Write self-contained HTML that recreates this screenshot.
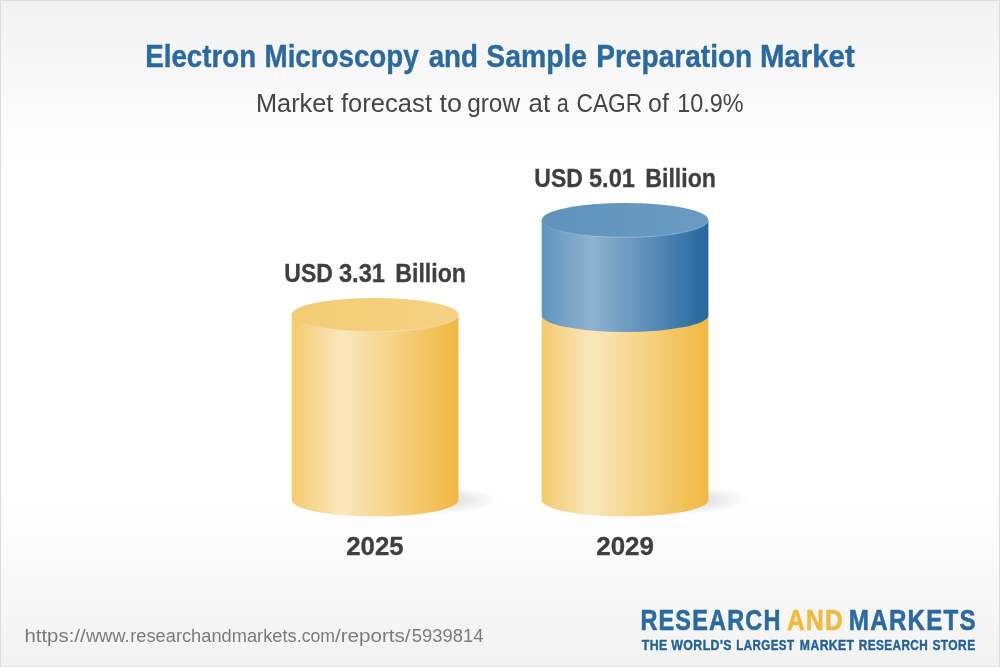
<!DOCTYPE html>
<html lang="en">
<head>
<meta charset="utf-8">
<title>Electron Microscopy and Sample Preparation Market</title>
<style>
  html, body { margin: 0; padding: 0; background: #ffffff; }
  body { width: 1000px; height: 667px; overflow: hidden; position: relative;
         font-family: "Liberation Sans", sans-serif; }
  #card { position: absolute; left: 0; top: 0; width: 998px; height: 665px;
          border: 1px solid #dcdcdc;
          background: linear-gradient(to bottom, #f2f2f2 0px, #ffffff 163px, #ffffff 498px, #f2f2f2 665px); }
  svg { position: absolute; left: 0; top: 0; }
  svg text { font-family: "Liberation Sans", sans-serif; }
</style>
</head>
<body>
<div id="card"></div>
<svg width="1000" height="667" viewBox="0 0 1000 667" xmlns="http://www.w3.org/2000/svg">
  <defs>
    <linearGradient id="gy" x1="0" y1="0" x2="1" y2="0">
      <stop offset="0" stop-color="#f4ca6d"/>
      <stop offset="0.30" stop-color="#fae7bd"/>
      <stop offset="1" stop-color="#f0b840"/>
    </linearGradient>
    <linearGradient id="gb" x1="0" y1="0" x2="1" y2="0">
      <stop offset="0" stop-color="#6095bf"/>
      <stop offset="0.30" stop-color="#8fb2cf"/>
      <stop offset="1" stop-color="#2467a0"/>
    </linearGradient>
    <linearGradient id="ty" x1="0" y1="0" x2="1" y2="0">
      <stop offset="0" stop-color="#f3cb73"/>
      <stop offset="1" stop-color="#f5d284"/>
    </linearGradient>
    <linearGradient id="tb" x1="0" y1="0" x2="1" y2="0">
      <stop offset="0" stop-color="#5f93bc"/>
      <stop offset="1" stop-color="#6b9bc2"/>
    </linearGradient>
    <linearGradient id="rim" x1="0" y1="0" x2="1" y2="0">
      <stop offset="0" stop-color="#fff" stop-opacity="0.1"/>
      <stop offset="0.45" stop-color="#fff" stop-opacity="0.45"/>
      <stop offset="1" stop-color="#fff" stop-opacity="0.3"/>
    </linearGradient>
    <radialGradient id="sh" cx="0.5" cy="0.5" r="0.5">
      <stop offset="0" stop-color="#000" stop-opacity="0.17"/>
      <stop offset="1" stop-color="#000" stop-opacity="0"/>
    </radialGradient>
  </defs>

  <!-- shadows -->
  <ellipse cx="437" cy="500" rx="61" ry="14" fill="url(#sh)"/>
  <ellipse cx="687" cy="500" rx="61" ry="14" fill="url(#sh)"/>

  <!-- cylinder 2025 -->
  <path d="M291.7 314.8 L291.7 500 A83.35 16.6 0 0 0 458.4 500 L458.4 314.8 Z" fill="url(#gy)"/>
  <ellipse cx="375.05" cy="314.8" rx="83.35" ry="16.9" fill="url(#ty)"/>
  <path d="M291.7 314.8 A83.35 16.9 0 0 0 458.4 314.8" fill="none" stroke="url(#rim)" stroke-width="0.7"/>

  <!-- cylinder 2029 -->
  <path d="M541.7 315.3 L541.7 500 A83.35 16.6 0 0 0 708.4 500 L708.4 315.3 Z" fill="url(#gy)"/>
  <path d="M541.7 220.2 L541.7 315.3 A83.35 16.6 0 0 0 708.4 315.3 L708.4 220.2 Z" fill="url(#gb)"/>
  <ellipse cx="625.05" cy="220.2" rx="83.35" ry="17.2" fill="url(#tb)"/>
  <path d="M541.7 220.2 A83.35 17.2 0 0 0 708.4 220.2" fill="none" stroke="url(#rim)" stroke-width="0.7"/>

  <!-- text -->
  <text y="66.9" font-size="31.4" font-weight="700" fill="#2a6aa1" stroke="#2a6aa1" stroke-width="0.4"><tspan x="145.23" textLength="110.89" lengthAdjust="spacingAndGlyphs">Electron</tspan> <tspan x="264.53" textLength="154.18" lengthAdjust="spacingAndGlyphs">Microscopy</tspan> <tspan x="428.64" textLength="49.26" lengthAdjust="spacingAndGlyphs">and</tspan> <tspan x="486.32" textLength="100.81" lengthAdjust="spacingAndGlyphs">Sample</tspan> <tspan x="596.21" textLength="156.06" lengthAdjust="spacingAndGlyphs">Preparation</tspan> <tspan x="759.88" textLength="94.81" lengthAdjust="spacingAndGlyphs">Market</tspan></text>
  <text y="111.8" font-size="25.3" font-weight="400" fill="#454545"><tspan x="256.00" textLength="77.31" lengthAdjust="spacingAndGlyphs">Market</tspan> <tspan x="341.00" textLength="90.99" lengthAdjust="spacingAndGlyphs">forecast</tspan> <tspan x="439.47" textLength="22.46" lengthAdjust="spacingAndGlyphs">to</tspan> <tspan x="467.13" textLength="52.96" lengthAdjust="spacingAndGlyphs">grow</tspan> <tspan x="528.58" textLength="21.53" lengthAdjust="spacingAndGlyphs">at</tspan> <tspan x="556.65" textLength="12.02" lengthAdjust="spacingAndGlyphs">a</tspan> <tspan x="576.48" textLength="65.73" lengthAdjust="spacingAndGlyphs">CAGR</tspan> <tspan x="648.01" textLength="20.85" lengthAdjust="spacingAndGlyphs">of</tspan> <tspan x="677.15" textLength="66.36" lengthAdjust="spacingAndGlyphs">10.9%</tspan></text>
  <text y="281.8" font-size="25.3" font-weight="700" fill="#3f3f3f" stroke="#3f3f3f" stroke-width="0.3"><tspan x="284.37" textLength="48.47" lengthAdjust="spacingAndGlyphs">USD</tspan> <tspan x="338.93" textLength="46.14" lengthAdjust="spacingAndGlyphs">3.31</tspan> <tspan x="395.23" textLength="70.79" lengthAdjust="spacingAndGlyphs">Billion</tspan></text>
  <text y="186.8" font-size="25.3" font-weight="700" fill="#3f3f3f" stroke="#3f3f3f" stroke-width="0.3"><tspan x="534.37" textLength="48.47" lengthAdjust="spacingAndGlyphs">USD</tspan> <tspan x="588.93" textLength="46.14" lengthAdjust="spacingAndGlyphs">5.01</tspan> <tspan x="645.23" textLength="70.79" lengthAdjust="spacingAndGlyphs">Billion</tspan></text>
  <text y="554.8" font-size="25.3" font-weight="700" fill="#3f3f3f" stroke="#3f3f3f" stroke-width="0.3"><tspan x="346.23" textLength="57.51" lengthAdjust="spacingAndGlyphs">2025</tspan></text>
  <text y="554.8" font-size="25.3" font-weight="700" fill="#3f3f3f" stroke="#3f3f3f" stroke-width="0.3"><tspan x="596.23" textLength="57.77" lengthAdjust="spacingAndGlyphs">2029</tspan></text>
  <text y="641.7" font-size="18.3" font-weight="400" fill="#7b7b7b"><tspan x="24.41" textLength="61.23" lengthAdjust="spacingAndGlyphs">https://</tspan><tspan x="85.90" textLength="43.79" lengthAdjust="spacingAndGlyphs">www.</tspan><tspan x="130.25" textLength="166.39" lengthAdjust="spacingAndGlyphs">researchandmarkets</tspan><tspan x="296.81" textLength="38.28" lengthAdjust="spacingAndGlyphs">.com</tspan><tspan x="335.00" textLength="75.57" lengthAdjust="spacingAndGlyphs">/reports/</tspan><tspan x="411.74" textLength="71.68" lengthAdjust="spacingAndGlyphs">5939814</tspan></text>
  <text y="629.7" font-size="29.4" font-weight="700" fill="#2a6aa1" stroke="#2a6aa1" stroke-width="0.6" letter-spacing="1.5"><tspan x="640.40" textLength="141.14" lengthAdjust="spacingAndGlyphs">RESEARCH</tspan> <tspan x="787.09" textLength="56.94" lengthAdjust="spacingAndGlyphs" fill="#f2b93b" stroke="#f2b93b">AND</tspan> <tspan x="848.86" textLength="128.05" lengthAdjust="spacingAndGlyphs">MARKETS</tspan></text>
  <text y="649.6" font-size="14.5" font-weight="700" fill="#22629c" stroke="#22629c" stroke-width="0.4" letter-spacing="0.5"><tspan x="641.80" textLength="25.85" lengthAdjust="spacingAndGlyphs">THE</tspan> <tspan x="671.21" textLength="60.75" lengthAdjust="spacingAndGlyphs">WORLD'S</tspan> <tspan x="736.20" textLength="58.23" lengthAdjust="spacingAndGlyphs">LARGEST</tspan> <tspan x="799.87" textLength="54.58" lengthAdjust="spacingAndGlyphs">MARKET</tspan> <tspan x="858.79" textLength="69.33" lengthAdjust="spacingAndGlyphs">RESEARCH</tspan> <tspan x="932.39" textLength="43.20" lengthAdjust="spacingAndGlyphs">STORE</tspan></text>
</svg>
</body>
</html>
